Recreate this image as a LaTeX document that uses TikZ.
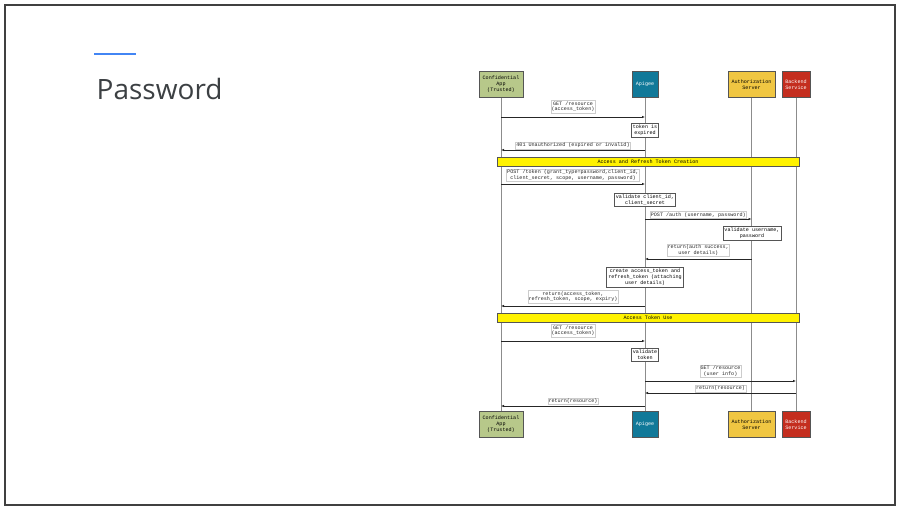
\documentclass[tikz,border=0pt]{standalone}
\usepackage{fontspec}
\setsansfont{Open Sans}
\setmonofont{Liberation Mono}
\usetikzlibrary{arrows.meta,positioning}

\definecolor{appgreen}{RGB}{183,200,138}
\definecolor{apiteal}{RGB}{17,121,153}
\definecolor{authgold}{RGB}{240,198,66}
\definecolor{backred}{RGB}{196,46,31}
\definecolor{boxedge}{RGB}{85,85,85}
\definecolor{titlegray}{RGB}{60,64,67}
\definecolor{gblue}{RGB}{66,133,244}

\tikzset{
  seqfont/.style={font=\ttfamily\fontsize{5.1}{5.9}\selectfont},
  actor/.style={draw=boxedge, line width=0.8pt, minimum height=26pt, inner sep=1pt, align=center, seqfont},
  note/.style={draw=boxedge, line width=0.7pt, fill=white, inner sep=1.5pt, align=center, seqfont},
  lbl/.style={draw=gray!40, line width=0.4pt, fill=white, inner sep=0.8pt, align=center, seqfont},
  msg/.style={-{Latex[length=3pt,width=2.4pt]}, line width=0.6pt, color=black!85},
  lifeline/.style={draw=black!45, line width=1pt},
  phase/.style={draw=boxedge, line width=0.7pt, fill=yellow, minimum width=302pt, minimum height=9pt, inner sep=0pt, seqfont}
}

% arrow between two lifelines at height #4, label above
\newcommand{\seqmsg}[5][1.5pt]{\draw[msg] (#2 |- 0,#4) -- (#3 |- 0,#4) node[midway, above=#1, lbl] {#5};}

\begin{document}
\begin{tikzpicture}[x=1pt, y=-1pt]
\useasboundingbox (0,0) rectangle (902,513);
\draw[line width=1.5pt, color=black!75] (5,5) rectangle (895,505);

% title
\draw[line width=1.5pt, color=gblue] (94,54) -- (136,54);
\node[anchor=base west, inner sep=0pt, font=\sffamily\fontsize{28}{30}\selectfont, color=titlegray] (title) at (96.5,99.5) {Password};

% participants
\node[actor, fill=appgreen, minimum width=44pt] (appT) at (501,84.5) {Confidential\\App\\(Trusted)};
\node[actor, fill=apiteal, text=white, minimum width=26pt] (apiT) at (645,84.5) {Apigee};
\node[actor, fill=authgold, minimum width=47pt] (authT) at (751.5,84.5) {Authorization\\Server};
\node[actor, fill=backred, text=white, minimum width=28pt] (backT) at (796,84.5) {Backend\\Service};
\node[actor, fill=appgreen, minimum width=44pt] (appB) at (501,424.5) {Confidential\\App\\(Trusted)};
\node[actor, fill=apiteal, text=white, minimum width=26pt] (apiB) at (645,424.5) {Apigee};
\node[actor, fill=authgold, minimum width=47pt] (authB) at (751.5,424.5) {Authorization\\Server};
\node[actor, fill=backred, text=white, minimum width=28pt] (backB) at (796,424.5) {Backend\\Service};
\foreach \p in {app,api,auth,back}
  \draw[lifeline] (\p T.south) -- (\p B.north);

% first attempt
\seqmsg[4pt]{appT}{apiT}{117}{GET /resource\\(access\_token)}
\node[note] (expired) at (645,130.5) {token is\\expired};
\seqmsg[1pt]{apiT}{appT}{150}{401 Unauthorized (expired or invalid)}

% token creation
\node[phase] (phaseA) at (648,161.5) {Access and Refresh Token Creation};
\seqmsg[2.5pt]{appT}{apiT}{184}{POST /token (grant\_type=password,client\_id,\\client\_secret, scope, username, password)}
\node[note] (checkclient) at (645,199.5) {validate client\_id,\\client\_secret};
\seqmsg[0.8pt]{apiT}{authT}{219}{POST /auth (username, password)}
\node[note] (checkuser) at (752,233.5) {validate username,\\password};
\seqmsg[2.5pt]{authT}{apiT}{259}{return(auth success,\\user details)}
\node[note] (create) at (645,277.5) {create access\_token and\\refresh\_token (attaching\\user details)};
\seqmsg[3pt]{apiT}{appT}{306}{return(access\_token,\\refresh\_token, scope, expiry)}

% token use
\node[phase] (phaseB) at (648,317.5) {Access Token Use};
\seqmsg[4pt]{appT}{apiT}{341}{GET /resource\\(access\_token)}
\node[note] (checktoken) at (645,355) {validate\\token};
\seqmsg[3.5pt]{apiT}{backT}{381}{GET /resource\\(user info)}
\seqmsg[1pt]{backT}{apiT}{393}{return(resource)}
\seqmsg[1.5pt]{apiT}{appT}{406}{return(resource)}
\end{tikzpicture}
\end{document}
